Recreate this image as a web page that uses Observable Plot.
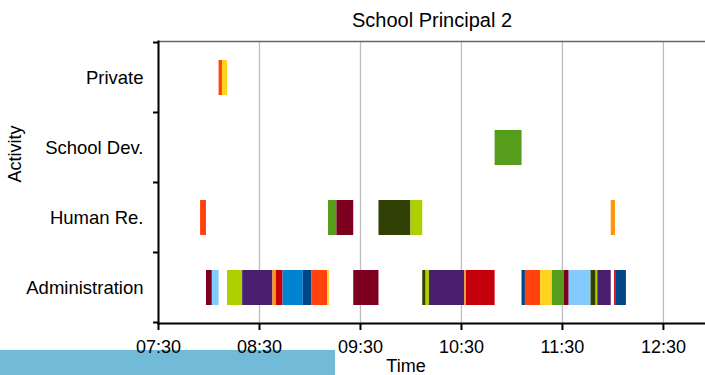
<!DOCTYPE html>
<html>
<head>
<meta charset="utf-8">
<script src="https://cdn.jsdelivr.net/npm/d3@7"></script>
<script src="https://cdn.jsdelivr.net/npm/@observablehq/plot@0.6"></script>
<style>
  html, body { margin: 0; padding: 0; background: #fff; }
  #wrap { position: relative; width: 705px; height: 375px; overflow: hidden; }
  #band { position: absolute; left: 0; top: 350px; width: 335px; height: 25px; background: #71bbd9; }
  #chart { position: absolute; left: 0; top: 0; }
  #chart svg { display: block; background: transparent; }
</style>
</head>
<body>
<div id="wrap"><div id="band"></div><div id="chart"></div></div>
<script>
const title = "School Principal 2";
const xLabel = "Time";
const yLabel = "Activity";
const activities = ["Private", "School Dev.", "Human Re.", "Administration"];
const tickLabels = ["07:30", "08:30", "09:30", "10:30", "11:30", "12:30"];
const xDomain = ["07:30:00", "12:55:00"];
const palette = ["#004586", "#ff420e", "#ffd320", "#579d1c", "#7e0021", "#83caff",
                 "#314004", "#aecf00", "#4b1f6f", "#ff950e", "#c5000b", "#0084d1"];
const tasks = ["T0", "T1", "T2", "T3", "T4", "T5", "T6", "T7", "T8", "T9", "T10", "T11"];

// segments (column arrays)
const segActivity = [
  "Private", "Private",
  "School Dev.",
  "Human Re.", "Human Re.", "Human Re.", "Human Re.", "Human Re.", "Human Re.",
  "Administration", "Administration", "Administration", "Administration", "Administration",
  "Administration", "Administration", "Administration", "Administration", "Administration",
  "Administration", "Administration", "Administration", "Administration", "Administration",
  "Administration", "Administration", "Administration", "Administration", "Administration",
  "Administration", "Administration", "Administration", "Administration", "Administration",
  "Administration", "Administration"
];
const segStart = [
  "08:06:00", "08:08:00",
  "10:50:00",
  "07:55:00", "09:11:00", "09:16:00", "09:41:00", "10:00:00", "11:59:00",
  "07:58:30", "08:02:00", "08:11:00", "08:20:00", "08:38:00",
  "08:40:00", "08:44:00", "08:56:00", "09:01:00", "09:10:30",
  "09:26:00", "10:07:00", "10:09:00", "10:11:00", "10:32:00",
  "10:33:00", "11:06:00", "11:08:00", "11:17:00", "11:24:00",
  "11:31:00", "11:34:00", "11:47:00", "11:50:00", "11:51:00",
  "12:01:00", "12:02:00"
];
const segEnd = [
  "08:08:00", "08:11:00",
  "11:06:00",
  "07:58:30", "09:16:00", "09:26:00", "10:00:00", "10:07:00", "12:01:30",
  "08:02:00", "08:06:00", "08:20:00", "08:38:00", "08:40:00",
  "08:44:00", "08:56:00", "09:01:00", "09:10:30", "09:11:30",
  "09:41:00", "10:09:00", "10:11:00", "10:32:00", "10:33:00",
  "10:50:00", "11:08:00", "11:17:00", "11:24:00", "11:31:00",
  "11:34:00", "11:47:00", "11:50:00", "11:51:00", "11:59:00",
  "12:02:00", "12:08:00"
];
const segTask = [
  "T1", "T2",
  "T3",
  "T1", "T3", "T4", "T6", "T7", "T9",
  "T4", "T5", "T7", "T8", "T9",
  "T10", "T11", "T0", "T1", "T2",
  "T4", "T6", "T7", "T8", "T9",
  "T10", "T0", "T1", "T2", "T3",
  "T4", "T5", "T6", "T7", "T8",
  "T10", "T0"
];

const parse = d3.timeParse("%H:%M:%S");
const parseHM = d3.timeParse("%H:%M");
const segments = segActivity.map((a, i) => ({
  activity: a, start: parse(segStart[i]), end: parse(segEnd[i]), task: segTask[i]
}));
const ticks = tickLabels.map(parseHM);
const fmt = d3.timeFormat("%H:%M");
const font = "'Liberation Sans', Arial, Helvetica, sans-serif";

const chart = Plot.plot({
  width: 705,
  height: 375,
  marginTop: 41,
  marginBottom: 52,
  marginLeft: 158,
  marginRight: 0,
  style: { fontFamily: font, fontSize: "18px", background: "transparent", color: "#000", overflow: "visible" },
  x: { type: "time", domain: xDomain.map(parse), label: null },
  y: { domain: activities, paddingInner: 0.5, paddingOuter: 0.25, label: null },
  color: { domain: tasks, range: palette },
  marks: [
    Plot.gridX(ticks, { stroke: "#bdbdbd", strokeOpacity: 1, strokeWidth: 1.3 }),
    Plot.barX(segments, { x1: "start", x2: "end", y: "activity", fill: "task" }),
    Plot.frame({ anchor: "top", stroke: "#666", strokeWidth: 1.5 }),
    Plot.frame({ anchor: "left", stroke: "#000", strokeWidth: 2 }),
    Plot.frame({ anchor: "bottom", stroke: "#000", strokeWidth: 2 }),
    Plot.axisX(ticks, { tickSize: 7, tickPadding: 10, stroke: "#000", strokeWidth: 2, strokeOpacity: 1, tickFormat: fmt, fontSize: 18, label: null }),
    Plot.axisY({ tickSize: 0, tickPadding: 15, fontSize: 18.5, label: null }),
    Plot.text([title], { frameAnchor: "top", dy: -21, lineAnchor: "middle", fontSize: 20 }),
    Plot.text([xLabel], { frameAnchor: "bottom", dx: -26, dy: 43, lineAnchor: "middle", fontSize: 18 }),
    Plot.text([yLabel], { frameAnchor: "left", dx: -143, rotate: -90, lineAnchor: "middle", fontSize: 18 })
  ]
});

// band-boundary ticks on the y axis, derived from the y scale
const ys = chart.scale("y");
const half = (ys.step - ys.bandwidth) / 2;
const bounds = activities.map(a => ys.apply(a) - half);
bounds.push(ys.apply(activities[activities.length - 1]) + ys.bandwidth + half);
const x0 = chart.scale("x").apply(parse(xDomain[0]));
d3.select(chart).append("g").selectAll("line").data(bounds).join("line")
  .attr("x1", x0 - 5).attr("x2", x0)
  .attr("y1", d => d).attr("y2", d => d)
  .attr("stroke", "#000").attr("stroke-width", 2);

document.getElementById("chart").appendChild(chart);
</script>
</body>
</html>
